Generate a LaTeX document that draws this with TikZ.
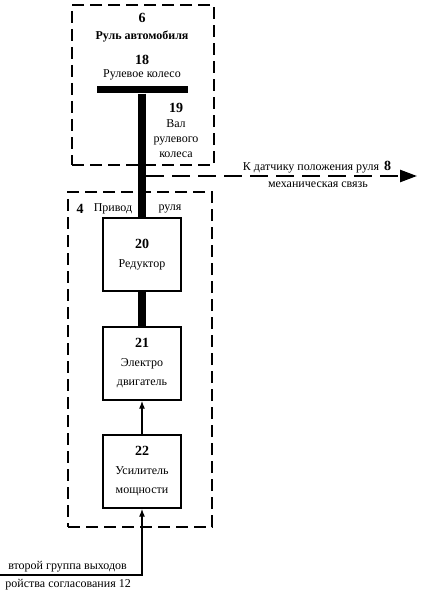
\documentclass[tikz,border=0pt]{standalone}
\usepackage{fontspec}
\setmainfont{Liberation Serif}
\usetikzlibrary{arrows.meta}

\newcommand{\numlbl}[1]{{\fontsize{14}{15}\selectfont\textbf{#1}}}

\tikzset{
  blk/.style={draw, line width=1.3pt, minimum width=78pt, minimum height=73pt,
    inner sep=0pt, align=center, font=\fontsize{12}{19}\selectfont},
  grp/.style={draw, line width=1.8pt, dash pattern=on 12pt off 6pt,
    inner sep=0pt},
  shaft/.style={line width=8pt},
  txt/.style={font=\fontsize{12}{15}\selectfont, inner sep=0pt},
}

\begin{document}
\begin{tikzpicture}[x=1pt, y=-1pt]
  \useasboundingbox (0,0) rectangle (425,591);

  % groups
  \node[grp, minimum width=142pt, minimum height=160pt] (wheelgrp) at (143,85) {};
  \node[grp, minimum width=144pt, minimum height=335pt] (drivegrp) at (140,359.5) {};

  % steering wheel
  \node[fill=black, minimum width=91pt, minimum height=7pt, inner sep=0pt] (wheel) at (142.5,90) {};
  \node[txt] (n6) at (142,18) {\numlbl{6}};
  \node[txt] (n6t) at (142,37) {\textbf{Руль автомобиля}};
  \node[txt] (n18) at (142,60) {\numlbl{18}};
  \node[txt] (n18t) at (142,75) {Рулевое колесо};
  \node[txt, align=center] (n19) at (176,130) {\numlbl{19}\\Вал\\рулевого\\колеса};

  % drive
  \node[txt] (n4) at (80,209) {\numlbl{4}};
  \node[txt] (n4a) at (113,209) {Привод};
  \node[txt] (n4b) at (170,209) {руля};

  % blocks
  \node[blk] (red) at (142,254.5) {\numlbl{20}\\Редуктор};
  \node[blk] (motor) at (142,363.5) {\numlbl{21}\\Электро\\двигатель};
  \node[blk] (amp) at (142,471.5) {\numlbl{22}\\Усилитель\\мощности};

  % connections
  \draw[shaft] (wheel.south -| red) -- (red.north);
  \draw[shaft] (red) -- (motor);
  \draw[line width=1.3pt, -{Latex[length=8pt,width=6pt]}] (amp) -- (motor);

  \coordinate (shaftr) at (146,176);
  \coordinate (sens) at (417,176);
  \draw[line width=2.5pt, dash pattern=on 18pt off 8pt,
    -{Triangle[length=17pt,width=12pt]}] (shaftr) -- (sens);
  \node[txt] (sensl) at (317,167) {К датчику положения руля \,\numlbl{8}};
  \node[txt] (mech) at (318,185) {механическая связь};

  \coordinate (inp) at (0,575);
  \draw[line width=1.3pt, -{Latex[length=8pt,width=6pt]}] (inp) -- (inp -| amp) -- (amp.south);
  \node[txt, anchor=east] (inpa) at (127,567) {второй группа выходов};
  \node[txt, anchor=east] (inpb) at (131,585) {ройства согласования 12};
\end{tikzpicture}
\end{document}
